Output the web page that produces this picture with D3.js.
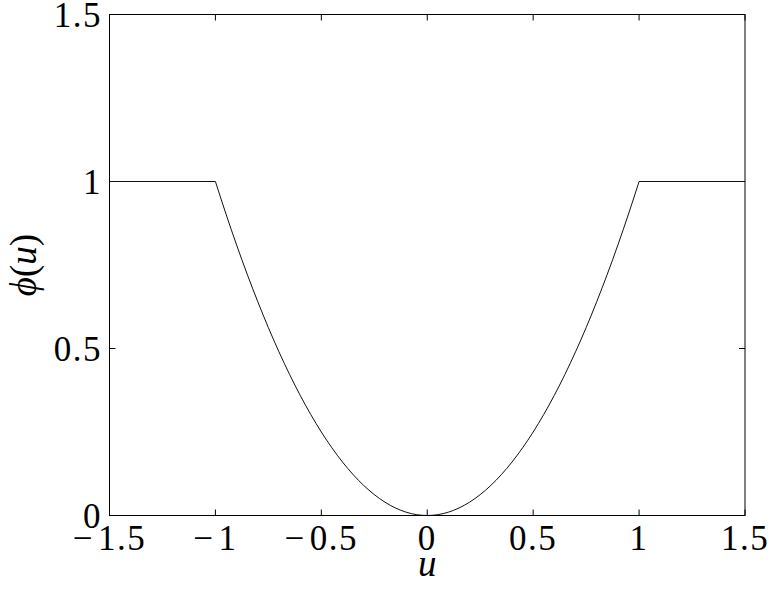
<!DOCTYPE html>
<html>
<head>
<meta charset="utf-8">
<script src="https://cdn.jsdelivr.net/npm/d3@7"></script>
<style>
  body { margin: 0; background: #fff; }
  text { font-family: "Liberation Serif", "DejaVu Serif", serif; fill: #000; }
</style>
</head>
<body>
<div id="chart"></div>
<script>
// values
var flatLeftU = [-1.5, -1.0], flatLeftPhi = [1, 1];
var bowlU = [-1.0, -0.95, -0.9, -0.85, -0.8, -0.75, -0.7, -0.65, -0.6, -0.55, -0.5,
  -0.45, -0.4, -0.35, -0.3, -0.25, -0.2, -0.15, -0.1, -0.05, 0,
  0.05, 0.1, 0.15, 0.2, 0.25, 0.3, 0.35, 0.4, 0.45, 0.5, 0.55, 0.6, 0.65, 0.7, 0.75,
  0.8, 0.85, 0.9, 0.95, 1.0];
var bowlPhi = [1, 0.9025, 0.81, 0.7225, 0.64, 0.5625, 0.49, 0.4225, 0.36, 0.3025, 0.25,
  0.2025, 0.16, 0.1225, 0.09, 0.0625, 0.04, 0.0225, 0.01, 0.0025, 0,
  0.0025, 0.01, 0.0225, 0.04, 0.0625, 0.09, 0.1225, 0.16, 0.2025, 0.25, 0.3025, 0.36, 0.4225, 0.49, 0.5625,
  0.64, 0.7225, 0.81, 0.9025, 1];
var flatRightU = [1.0, 1.5], flatRightPhi = [1, 1];
var xTicks = [-1.5, -1, -0.5, 0, 0.5, 1, 1.5];
var yTicks = [0, 0.5, 1, 1.5];

var width = 776, height = 589;
var margin = {left: 109.5, top: 14.5, right: 31, bottom: 73.5};
var fs = 35;

var svg = d3.select("#chart").append("svg")
  .attr("width", width)
  .attr("height", height);

var x = d3.scaleLinear().domain([-1.5, 1.5]).range([margin.left, width - margin.right]);
var y = d3.scaleLinear().domain([0, 1.5]).range([height - margin.bottom, margin.top]);

// number label with a wide TeX-like minus
function numLabel(sel, d) {
  if (d < 0) {
    sel.append("tspan").text("\u2212");
    sel.append("tspan").attr("dx", 4).text(String(-d));
  } else {
    sel.text(String(d));
  }
}

var tickLen = 6;
var g = svg.append("g");

xTicks.forEach(function(t){
  g.append("line").attr("x1", x(t)).attr("x2", x(t))
    .attr("y1", y(0)).attr("y2", y(0) - tickLen).attr("stroke", "#000");
  g.append("line").attr("x1", x(t)).attr("x2", x(t))
    .attr("y1", y(1.5)).attr("y2", y(1.5) + tickLen).attr("stroke", "#000");
  var tx = g.append("text").attr("x", x(t)).attr("y", 550)
    .attr("text-anchor", "middle").attr("font-size", fs)
    .attr("letter-spacing", 1.5);
  numLabel(tx, t);
});
yTicks.forEach(function(t){
  g.append("line").attr("x1", x(-1.5)).attr("x2", x(-1.5) + tickLen)
    .attr("y1", y(t)).attr("y2", y(t)).attr("stroke", "#000");
  g.append("line").attr("x1", x(1.5)).attr("x2", x(1.5) - tickLen)
    .attr("y1", y(t)).attr("y2", y(t)).attr("stroke", "#000");
  var ty = g.append("text").attr("x", 102).attr("y", y(t) + 12)
    .attr("text-anchor", "end").attr("font-size", fs)
    .attr("letter-spacing", 1.5);
  numLabel(ty, t);
});

// curve: flat parts straight, bowl smooth
var line = d3.line().x(function(d){ return x(d[0]); }).y(function(d){ return y(d[1]); });
var smooth = d3.line().curve(d3.curveMonotoneX)
  .x(function(d){ return x(d[0]); }).y(function(d){ return y(d[1]); });
function zip(a, b) { return a.map(function(v, i){ return [v, b[i]]; }); }

[[line, zip(flatLeftU, flatLeftPhi)], [smooth, zip(bowlU, bowlPhi)], [line, zip(flatRightU, flatRightPhi)]]
  .forEach(function(p){
    svg.append("path").datum(p[1])
      .attr("d", p[0])
      .attr("fill", "none")
      .attr("stroke", "#111")
      .attr("stroke-width", 1);
  });

// frame
svg.append("rect")
  .attr("x", x(-1.5)).attr("y", y(1.5))
  .attr("width", x(1.5) - x(-1.5)).attr("height", y(0) - y(1.5))
  .attr("fill", "none").attr("stroke", "#000").attr("stroke-width", 1);

// axis labels
svg.append("text").attr("x", x(0)).attr("y", 576)
  .attr("text-anchor", "middle").attr("font-size", 37).attr("font-style", "italic")
  .text("u");
svg.append("text")
  .attr("transform", "translate(36," + y(0.75) + ") rotate(-90)")
  .attr("text-anchor", "middle").attr("font-size", 37)
  .html('<tspan font-style="italic">\u03D5</tspan>(<tspan font-style="italic">u</tspan>)');
</script>
</body>
</html>
